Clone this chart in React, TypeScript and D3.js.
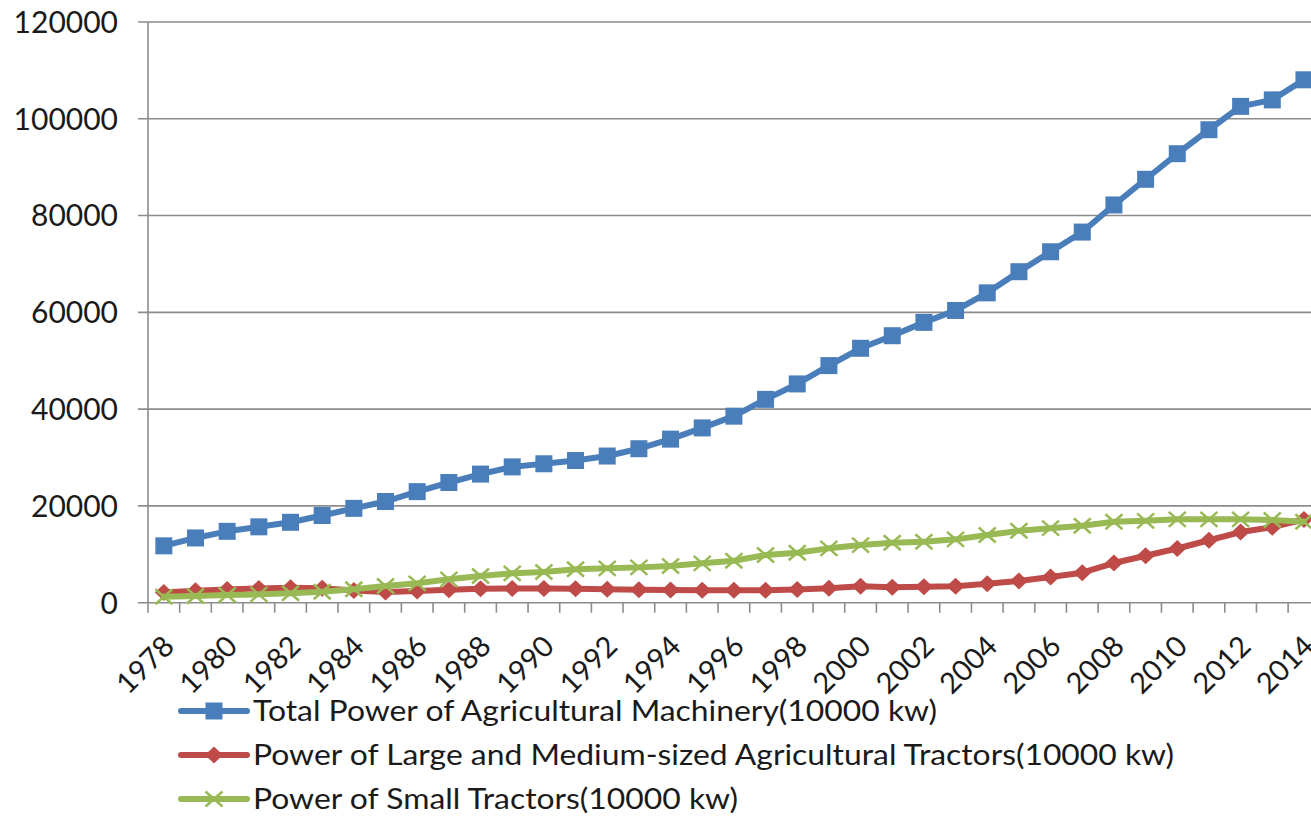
import React from "react";
import * as d3 from "d3";

const years: number[] = d3.range(1978, 2015);

const totalPower: number[] = [
  11750, 13379, 14746, 15680, 16614, 18022, 19497, 20913, 22950, 24836,
  26575, 28067, 28708, 29389, 30308, 31817, 33803, 36118, 38547, 42016,
  45208, 48996, 52574, 55172, 57930, 60387, 64028, 68398, 72522, 76590,
  82190, 87496, 92780, 97735, 102559, 103907, 108057,
];

const largeMediumPower: number[] = [
  2100, 2450, 2750, 2950, 3100, 3000, 2500, 2200, 2400, 2700,
  2900, 2950, 2950, 2900, 2800, 2700, 2600, 2550, 2550, 2550,
  2750, 3000, 3400, 3200, 3300, 3400, 3900, 4500, 5300, 6200,
  8200, 9700, 11200, 12900, 14600, 15600, 17200,
];

const smallPower: number[] = [
  1240, 1380, 1590, 1730, 1940, 2270, 2770, 3450, 4000, 4830,
  5510, 6070, 6350, 6900, 7100, 7300, 7580, 8130, 8680, 9850,
  10330, 11230, 11910, 12390, 12600, 13090, 14000, 14860, 15400, 15900,
  16730, 16910, 17220, 17220, 17220, 17080, 16730,
];

const yTicks: number[] = [0, 20000, 40000, 60000, 80000, 100000, 120000];
const xLabelYears: number[] = years.filter((y) => (y - 1978) % 2 === 0);

const seriesNames: string[] = [
  "Total Power of Agricultural Machinery(10000 kw)",
  "Power of Large and Medium-sized Agricultural Tractors(10000 kw)",
  "Power of Small Tractors(10000 kw)",
];
const legendWidths: number[] = [684, 921, 485];

const BLUE = "#4A7EBB";
const RED = "#BE4B48";
const GREEN = "#98B954";
const FONT = "Lato, 'Open Sans', sans-serif";
const AXIS = "#8c8c8c";

export default function App() {
  const W = 1311;
  const H = 817;
  const x0 = 148;
  const band = 31.67;
  const x = d3
    .scaleBand<number>()
    .domain(years)
    .range([x0, x0 + band * years.length])
    .paddingInner(0)
    .paddingOuter(0);
  const y = d3.scaleLinear().domain([0, 120000]).range([602.7, 22]);
  const cx = (yr: number) => (x(yr) as number) + x.bandwidth() / 2;

  const line = d3
    .line<number>()
    .x((_, i) => cx(years[i]))
    .y((d) => y(d));

  const series = [
    { name: seriesNames[0], data: totalPower, color: BLUE, marker: "square" },
    { name: seriesNames[1], data: largeMediumPower, color: RED, marker: "diamond" },
    { name: seriesNames[2], data: smallPower, color: GREEN, marker: "x" },
  ];

  const marker = (type: string, color: string, px: number, py: number, key: string) => {
    if (type === "square") {
      return <rect key={key} x={px - 8.5} y={py - 8.5} width={17} height={17} fill={color} />;
    }
    if (type === "diamond") {
      const sx = 9;
      const sy = 8.5;
      return (
        <path
          key={key}
          d={`M${px},${py - sy}L${px + sx},${py}L${px},${py + sy}L${px - sx},${py}Z`}
          fill={color}
        />
      );
    }
    const sx = 8.5;
    const sy = 7.5;
    return (
      <path
        key={key}
        d={`M${px - sx},${py - sy}L${px + sx},${py + sy}M${px - sx},${py + sy}L${px + sx},${py - sy}`}
        stroke={color}
        strokeWidth={2.5}
        fill="none"
      />
    );
  };

  const legendY = [711, 755, 799];

  return (
    <svg
      width={W}
      height={H}
      style={{ position: "absolute", left: 0, top: 0, background: "#fff" }}
      fontFamily={FONT}
    >
      <rect x={0} y={0} width={W} height={H} fill="#fff" />
      {yTicks.map((t) => (
        <line key={"g" + t} x1={x0 - 10} x2={W} y1={y(t)} y2={y(t)} stroke={AXIS} strokeWidth={1.6} />
      ))}
      <line x1={x0} x2={x0} y1={y(120000)} y2={y(0)} stroke={AXIS} strokeWidth={1.6} />
      {years.map((yr) => (
        <line
          key={"xt" + yr}
          x1={x(yr) as number}
          x2={x(yr) as number}
          y1={y(0)}
          y2={y(0) + 10}
          stroke={AXIS}
          strokeWidth={1.6}
        />
      ))}
      <line
        x1={x0 + band * years.length}
        x2={x0 + band * years.length}
        y1={y(0)}
        y2={y(0) + 10}
        stroke={AXIS}
        strokeWidth={1.6}
      />
      {yTicks.map((t) => (
        <text
          key={"yl" + t}
          x={118}
          y={y(t)}
          dy="0.36em"
          textAnchor="end"
          fontSize={30}
          fill="#1a1a1a"
        >
          {t}
        </text>
      ))}
      {xLabelYears.map((yr) => {
        const px = cx(yr) + 12;
        const py = 648;
        return (
          <text
            key={"xl" + yr}
            x={px}
            y={py}
            textAnchor="end"
            fontSize={29}
            fill="#1a1a1a"
            transform={`rotate(-45 ${px} ${py})`}
          >
            {yr}
          </text>
        );
      })}
      {series.map((s) => (
        <g key={s.name}>
          <path
            d={line(s.data) || ""}
            fill="none"
            stroke={s.color}
            strokeWidth={6}
            strokeLinejoin="round"
            strokeLinecap="round"
          />
          {s.data.map((v, i) => marker(s.marker, s.color, cx(years[i]), y(v), s.name + i))}
        </g>
      ))}
      {series.map((s, i) => (
        <g key={"lg" + i}>
          <line
            x1={181}
            x2={247}
            y1={legendY[i]}
            y2={legendY[i]}
            stroke={s.color}
            strokeWidth={6}
            strokeLinecap="round"
          />
          {marker(s.marker, s.color, 214, legendY[i], "lm" + i)}
          <text
            x={253}
            y={legendY[i]}
            dy="0.36em"
            fontSize={29}
            fill="#1a1a1a"
            textLength={legendWidths[i]}
            lengthAdjust="spacingAndGlyphs"
          >
            {s.name}
          </text>
        </g>
      ))}
    </svg>
  );
}
